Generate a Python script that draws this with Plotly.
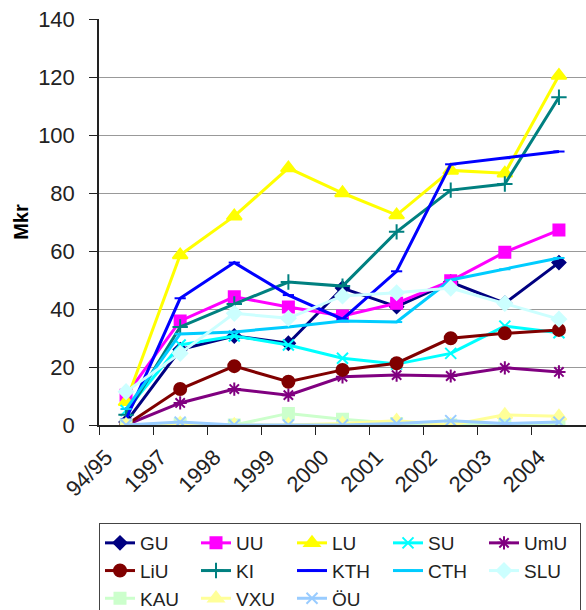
import plotly.graph_objects as go

years = ["94/95", "1997", "1998", "1999", "2000", "2001", "2002", "2003", "2004"]

GU = [1, 26, 30.7, 28.2, 47.2, 40.8, 49.3, 42, 56]
UU = [10.3, 35.9, 44.2, 40.7, 37.6, 42, 49.7, 59.6, 67.2]
LU = [8, 58.6, 72, 88.6, 80, 72.4, 87.8, 86.8, 120.5]
SU = [5, 27.6, 30.7, 27.6, 23, 21, 24.7, 34.1, 31.8]
UmU = [0, 7.6, 12.4, 10.3, 16.6, 17.2, 16.9, 19.7, 18.3]
LiU = [0, 12.4, 20.3, 14.9, 19, 21.3, 29.9, 31.6, 32.8]
KI = [3.5, 33.8, 41.7, 49.3, 47.9, 66.6, 81, 83.1, 113]
KTH = [2, 43.7, 56, 44.8, 36.5, 53, 89.9, 92, 94.3]
CTH = [5.5, 31.4, 32.1, 33.8, 35.9, 35.5, 50, 53.7, 57.6]
SLU = [11.5, 24.7, 38.5, 36.8, 44.5, 45.6, 47.2, 41.9, 36.5]
KAU = [0, 0.3, 0, 4, 2, 0.5, 0, 0.5, 0.2]
VXU = [0, 0.5, 0, 0, 0.5, 1.5, 0, 3.5, 3]
OU = [0, 1, 0, 0, 0, 0.5, 1.5, 0.5, 1]

series = [
    ("GU", GU, "#000080", "diamond", 10),
    ("UU", UU, "#FF00FF", "square", 11),
    ("LU", LU, "#FFFF00", "triangle-up", 13),
    ("SU", SU, "#00FFFF", "x-thin-open", 11),
    ("UmU", UmU, "#800080", "asterisk-open", 11),
    ("LiU", LiU, "#800000", "circle", 12),
    ("KI", KI, "#008080", "cross-thin-open", 11),
    ("KTH", KTH, "#0000FF", "line-ew-open", 8),
    ("CTH", CTH, "#00CCFF", "line-ew-open", 8),
    ("SLU", SLU, "#CCFFFF", "diamond", 11),
    ("KAU", KAU, "#CCFFCC", "square", 11),
    ("VXU", VXU, "#FFFF99", "triangle-up", 13),
    ("ÖU", OU, "#99CCFF", "x-thin-open", 11),
]

fig = go.Figure()
for name, vals, col, sym, sz in series:
    fig.add_trace(go.Scatter(
        x=years, y=vals, name=name, mode="lines+markers",
        line=dict(color=col, width=3),
        marker=dict(symbol=sym, size=sz, color=col, line=dict(color=col, width=2)),
    ))

# figure is a bit taller than the window so the legend's bottom edge gets cut, like the original
fig.update_layout(
    width=586, height=622,
    margin=dict(l=99, r=0, t=19, b=197),
    paper_bgcolor="white", plot_bgcolor="white",
    font=dict(family="Liberation Sans, Arial", color="#222222"),
    showlegend=True,
    legend=dict(
        orientation="h", x=0, y=-0.2414, xanchor="left", yanchor="top",
        bordercolor="#444444", borderwidth=1, font=dict(size=19),
        entrywidth=51, itemwidth=30, tracegroupgap=0,
    ),
)
fig.update_xaxes(
    type="category", tickangle=-45, tickfont=dict(size=22),
    showline=True, linecolor="#222222", linewidth=1.5,
    ticks="outside", ticklen=8, tickcolor="#222222", tickson="boundaries",
    showgrid=False, ticklabelshift=-20, ticklabelstandoff=9,
    range=[-0.5, 8.5], automargin=False,
)
fig.update_yaxes(
    range=[0, 140], dtick=20, tickfont=dict(size=22),
    showline=True, linecolor="#222222", linewidth=1.5,
    ticks="outside", ticklen=8, tickcolor="#222222",
    showgrid=True, gridcolor="#999999", gridwidth=1, zeroline=False,
    ticklabelstandoff=10, automargin=False,
    title=dict(text="<b>Mkr</b>", font=dict(size=20, color="#000000"), standoff=4),
)

fig.write_html(
    "out.html",
    config={"displayModeBar": False},
    post_script="document.body.style.margin='0';document.body.style.overflow='hidden';",
)
